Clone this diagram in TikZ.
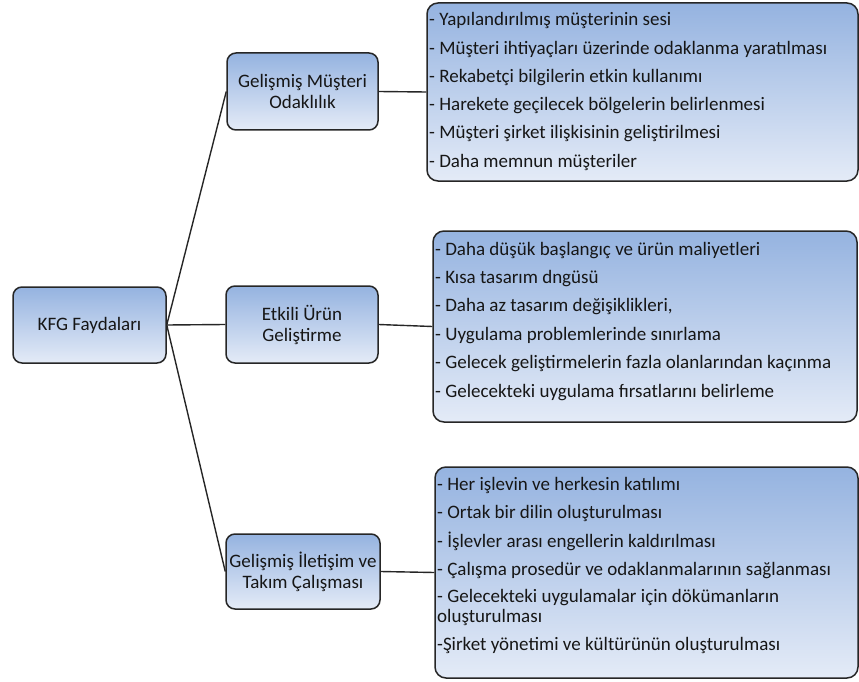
\documentclass[tikz,border=0pt]{standalone}
\usepackage{fontspec}
\setmainfont{Carlito}
\definecolor{boxtop}{HTML}{95B3E0}
\definecolor{boxbottom}{HTML}{E4EBF7}
\definecolor{edge}{HTML}{262626}
\definecolor{ink}{HTML}{161616}
\tikzset{
  x=1pt, y=-1pt,
  topic/.style={draw=edge, line width=1.5pt, rounded corners=9pt,
    top color=boxtop, bottom color=boxbottom, inner sep=0pt,
    text=ink, align=center, font=\fontsize{19}{21}\selectfont},
  listbox/.style={draw=edge, line width=1.5pt, rounded corners=11pt,
    top color=boxtop, bottom color=boxbottom, inner sep=0pt},
  item/.style={anchor=base west, inner sep=0pt, text=ink,
    font=\fontsize{19}{21}\selectfont},
  link/.style={draw=edge, line width=1.4pt}
}
\begin{document}
\begin{tikzpicture}
\useasboundingbox (0,0) rectangle (859,682);

% topic boxes
\node[topic, minimum width=153pt, minimum height=76pt] (root) at (89.5,325) {KFG Faydaları};
\node[topic, minimum width=151pt, minimum height=77pt] (c1) at (302.5,91.5) {Gelişmiş Müşteri\\Odaklılık};
\node[topic, minimum width=152pt, minimum height=77pt] (c2) at (302,324.5) {Etkili Ürün\\Geliştirme};
\node[topic, minimum width=154pt, minimum height=75pt] (c3) at (303,571.5) {Gelişmiş İletişim ve\\Takım Çalışması};

% list boxes
\node[listbox, minimum width=431pt, minimum height=178pt] (b1) at (642.5,92) {};
\node[listbox, minimum width=424pt, minimum height=191pt] (b2) at (645,326.5) {};
\node[listbox, minimum width=423pt, minimum height=211pt] (b3) at (646.5,572.5) {};

% connectors
\draw[link] (root.east) -- (c1.west);
\draw[link] (root.east) -- (c2.west);
\draw[link] (root.east) -- (c3.west);
\draw[link] (c1.east) -- (b1.west);
\draw[link] (c2.east) -- (b2.west);
\draw[link] (c3.east) -- (b3.west);

% items of the first list
\foreach \t [count=\i] in {
  {- Yapılandırılmış müşterinin sesi},
  {- Müşteri ihtiyaçları üzerinde odaklanma yaratılması},
  {- Rekabetçi bilgilerin etkin kullanımı},
  {- Harekete geçilecek bölgelerin belirlenmesi},
  {- Müşteri şirket ilişkisinin geliştirilmesi},
  {- Daha memnun müşteriler}}
  \node[item] (p1-\i) at (429,26+28.2*\i-28.2) {\t};

% items of the second list
\foreach \t [count=\i] in {
  {- Daha düşük başlangıç ve ürün maliyetleri},
  {- Kısa tasarım dngüsü},
  {- Daha az tasarım değişiklikleri,},
  {- Uygulama problemlerinde sınırlama},
  {- Gelecek geliştirmelerin fazla olanlarından kaçınma},
  {- Gelecekteki uygulama fırsatlarını belirleme}}
  \node[item] (p2-\i) at (435,255+28.4*\i-28.4) {\t};

% items of the third list
\node[item] (p3-1) at (437,490.5) {- Her  işlevin ve herkesin katılımı};
\node[item] (p3-2) at (437,518.5) {- Ortak bir dilin oluşturulması};
\node[item] (p3-3) at (437,547.5) {- İşlevler arası engellerin kaldırılması};
\node[item] (p3-4) at (437,575.5) {- Çalışma prosedür ve  odaklanmalarının sağlanması};
\node[item] (p3-5) at (437,602.5) {- Gelecekteki uygulamalar  için dökümanların};
\node[item] (p3-6) at (437,622.5) {oluşturulması};
\node[item] (p3-7) at (437,650.5) {-Şirket yönetimi ve kültürünün oluşturulması};
\end{tikzpicture}
\end{document}
